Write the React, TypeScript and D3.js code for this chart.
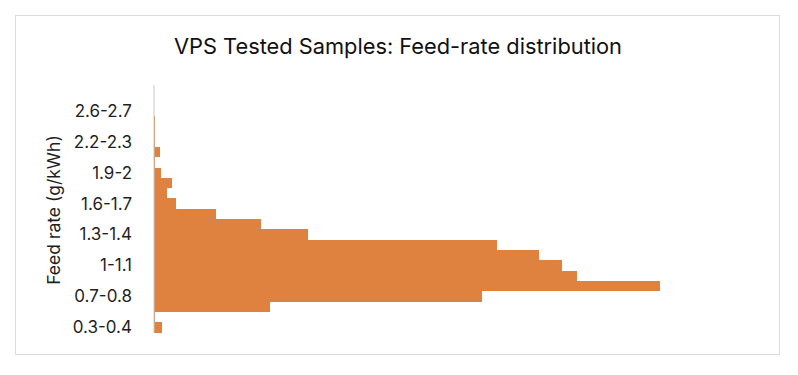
import * as d3 from "d3";

// bins from bottom to top; only every third one gets a label
const bins = [
  "0.3-0.4", "0.5-0.6", "0.6-0.7", "0.7-0.8", "0.8-0.9", "0.9-1",
  "1-1.1", "1.1-1.2", "1.2-1.3", "1.3-1.4", "1.4-1.5", "1.5-1.6",
  "1.6-1.7", "1.7-1.8", "1.8-1.9", "1.9-2", "2-2.1", "2.1-2.2",
  "2.2-2.3", "2.3-2.4", "2.5-2.6", "2.6-2.7", "2.7-2.8", "2.8-2.9",
];
// share of samples (%) per bin
const share = [
  0.27, 0.02, 3.99, 11.27, 17.39, 14.54,
  14.02, 13.23, 11.79, 5.29, 3.68, 2.13,
  0.76, 0.45, 0.62, 0.24, 0.03, 0.21,
  0.03, 0.03, 0.03, 0, 0, 0,
];
const tickLabels = ["0.3-0.4", "0.7-0.8", "1-1.1", "1.3-1.4", "1.6-1.7", "1.9-2", "2.2-2.3", "2.6-2.7"];

const W = 798;
const H = 375;
const plot = { left: 154, right: 736, top: 85, bottom: 332.5 };
const font = "Inter, 'Noto Sans', sans-serif";

export default function App() {
  const x = d3.scaleLinear().domain([0, 20]).range([plot.left, plot.right]);
  const y = d3
    .scaleBand<string>()
    .domain([...bins].reverse())
    .range([plot.top, plot.bottom])
    .paddingInner(0);

  return (
    <svg
      width={W}
      height={H}
      style={{ position: "absolute", left: 0, top: 0, background: "#fff" }}
    >
      <rect x={15.5} y={15.5} width={764} height={339} fill="#fff" stroke="#dcdcdc" />
      <text
        x={398}
        y={54}
        textAnchor="middle"
        fontFamily={font}
        fontSize={21.8}
        fill="#111"
      >
        VPS Tested Samples: Feed-rate distribution
      </text>

      {bins.map((b, i) => {
        const y0 = Math.round(y(b)!);
        const y1 = Math.round(y(b)! + y.bandwidth());
        return (
          <rect
            key={b}
            x={x(0)}
            y={y0}
            width={Math.max(0, x(share[i]) - x(0))}
            height={y1 - y0}
            fill="#E0823F"
            shapeRendering="crispEdges"
          />
        );
      })}

      <line x1={plot.left} x2={plot.left} y1={plot.top} y2={plot.bottom} stroke="#c8c8c8" />

      {tickLabels.map((t) => (
        <text
          key={t}
          x={132}
          y={y(t)! + y.bandwidth() / 2}
          dy="0.35em"
          textAnchor="end"
          fontFamily={font}
          fontSize={17}
          fill="#1f1f1f"
        >
          {t}
        </text>
      ))}

      <text
        transform={`translate(60,210) rotate(-90)`}
        textAnchor="middle"
        fontFamily={font}
        fontSize={17.5}
        fill="#1f1f1f"
      >
        Feed rate (g/kWh)
      </text>
    </svg>
  );
}
